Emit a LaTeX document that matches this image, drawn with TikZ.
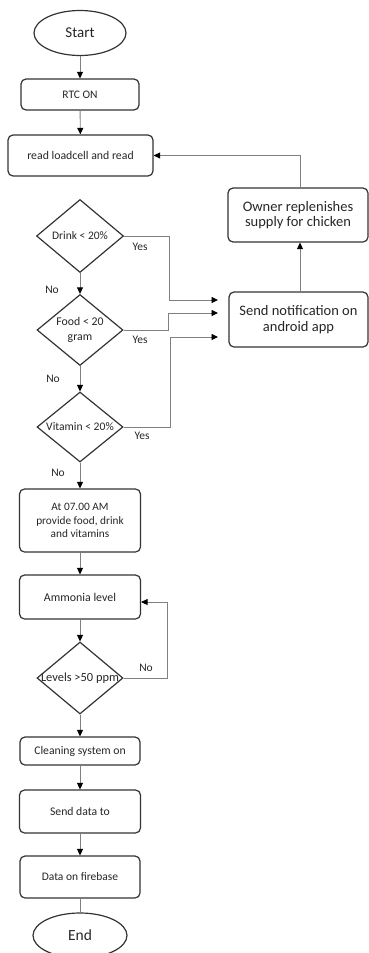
\documentclass[tikz,border=0pt]{standalone}
\usepackage{fontspec}
\setmainfont{Carlito}
\usetikzlibrary{shapes.geometric,arrows.meta}
\tikzset{
  base/.style={draw=black!80, line width=1.2pt, align=center, inner sep=0pt, text=black!85},
  boxnode/.style={base, rectangle, rounded corners=5pt},
  dianode/.style={base, diamond},
  ovalnode/.style={base, ellipse},
  conn/.style={draw=black!50, line width=0.9pt, -{Triangle[width=6pt,length=6.5pt,color=black]}},
  plainconn/.style={draw=black!50, line width=0.9pt},
  lbl/.style={inner sep=0pt, text=black!85, font=\fontsize{11.5}{13}\selectfont},
  fs/.style={font=\fontsize{#1}{#1}\selectfont}
}
\begin{document}
\begin{tikzpicture}[x=1pt,y=-1pt]
\useasboundingbox (0,0) rectangle (369,953);
% main column
\node[ovalnode, minimum width=92pt, minimum height=45pt, fs=15] (start) at (80,33) {Start};
\node[boxnode, minimum width=118pt, minimum height=31pt, fs=11.5] (rtc) at (80,94.5) {RTC ON};
\node[boxnode, minimum width=145pt, minimum height=41pt, fs=11.8] (read) at (80.5,155.5) {read loadcell and read};
\node[dianode, minimum width=87pt, minimum height=73pt, fs=11.5] (drink) at (80,236) {\makebox[0pt]{Drink < 20\%}};
\node[dianode, minimum width=86pt, minimum height=71pt, font=\fontsize{11.8}{14.5}\selectfont] (food) at (80,330) {\makebox[0pt]{\begin{tabular}{@{}c@{}}Food < 20\\ gram\end{tabular}}};
\node[dianode, minimum width=86pt, minimum height=70pt, fs=11.6] (vit) at (80,427) {\makebox[0pt]{Vitamin < 20\%}};
\node[boxnode, minimum width=121pt, minimum height=63pt, font=\fontsize{11.3}{13.5}\selectfont] (at7) at (80,520.5) {At 07.00 AM\\provide food, drink\\and vitamins};
\node[boxnode, minimum width=121pt, minimum height=44pt, fs=11.9] (amm) at (80,597) {Ammonia level};
\node[dianode, minimum width=86pt, minimum height=72pt, fs=12.4] (lev) at (80,678) {\makebox[0pt]{Levels >50 ppm}};
\node[boxnode, minimum width=120pt, minimum height=28pt, fs=11.7] (clean) at (80,751) {Cleaning system on};
\node[boxnode, minimum width=121pt, minimum height=43pt, fs=11.7] (senddata) at (80,811.5) {Send data to};
\node[boxnode, minimum width=120pt, minimum height=42pt, fs=11.5] (fire) at (80,877) {Data on firebase};
\node[ovalnode, minimum width=94pt, minimum height=45pt, fs=15.5] (end) at (80,935.5) {End};
% right column
\node[boxnode, minimum width=140pt, minimum height=54pt, font=\fontsize{14.5}{15.5}\selectfont] (owner) at (298,215) {Owner replenishes\\supply for chicken};
\node[boxnode, minimum width=139pt, minimum height=55pt, font=\fontsize{14.5}{15.5}\selectfont] (notif) at (298.5,319.5) {Send notification on\\android app};
% free ends of the Yes arrows
\coordinate (t1) at (218,300);
\coordinate (t2) at (218,313);
\coordinate (t3) at (218,337);
% vertical connectors
\draw[conn] (start) -- (rtc);
\draw[conn] (rtc) -- (read);
\draw[conn] (drink) -- (food);
\draw[conn] (food) -- (vit);
\draw[conn] (vit) -- (at7);
\draw[conn] (at7) -- (amm);
\draw[conn] (amm) -- (lev);
\draw[conn] (lev) -- (clean);
\draw[conn] (clean) -- (senddata);
\draw[conn] (senddata) -- (fire);
\draw[plainconn] (fire) -- (end);
% right side
\draw[conn] (notif.north -| 300,0) -- (owner.south -| 300,0);
\draw[conn] (owner.north -| 300,0) |- (read.east);
% Yes branches
\draw[conn] (drink.east) -| (169,300) -- (t1);
\draw[conn] (food.east) -| (168,313) -- (t2);
\draw[conn] (vit.east) -| (170,337) -- (t3);
% No loop
\draw[conn] (lev.east) -| (167,602) -- (amm.east |- 0,602);
% labels
\node[lbl] (yes1) at (140,247) {Yes};
\node[lbl] (yes2) at (140,340) {Yes};
\node[lbl] (yes3) at (142,436) {Yes};
\node[lbl] (no1) at (52,290) {No};
\node[lbl] (no2) at (53,379) {No};
\node[lbl] (no3) at (58,473) {No};
\node[lbl] (no4) at (146,668) {No};
\end{tikzpicture}
\end{document}
